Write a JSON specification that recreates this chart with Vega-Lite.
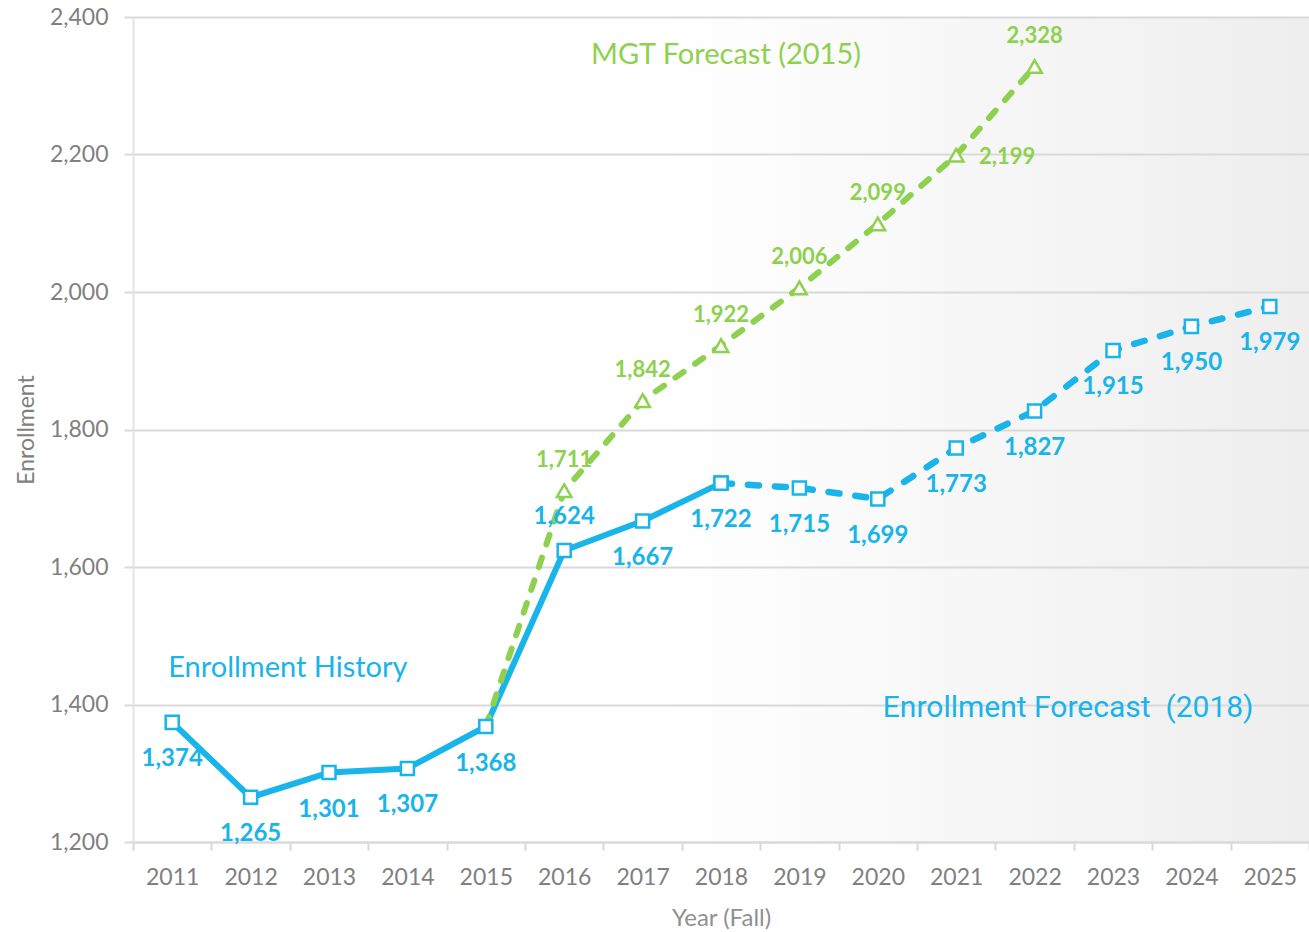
{
  "$schema": "https://vega.github.io/schema/vega-lite/v6.json",
  "width": 1176,
  "height": 825,
  "autosize": {"type": "none"},
  "padding": {"left": 133, "top": 17, "right": 0, "bottom": 90},
  "background": "white",
  "config": {
    "font": "Lato",
    "view": {
      "stroke": null,
      "fill": {
        "gradient": "linear",
        "x1": 0, "y1": 0, "x2": 1, "y2": 0,
        "stops": [
          {"offset": 0, "color": "#ffffff"},
          {"offset": 0.45, "color": "#ffffff"},
          {"offset": 1, "color": "#eeeeee"}
        ]
      }
    }
  },
  "datasets": {
    "series": [
      {"Year": 2011, "Enrollment": 1374, "Series": "History"},
      {"Year": 2012, "Enrollment": 1265, "Series": "History"},
      {"Year": 2013, "Enrollment": 1301, "Series": "History"},
      {"Year": 2014, "Enrollment": 1307, "Series": "History"},
      {"Year": 2015, "Enrollment": 1368, "Series": "History"},
      {"Year": 2016, "Enrollment": 1624, "Series": "History"},
      {"Year": 2017, "Enrollment": 1667, "Series": "History"},
      {"Year": 2018, "Enrollment": 1722, "Series": "History"},
      {"Year": 2018, "Enrollment": 1722, "Series": "Forecast"},
      {"Year": 2019, "Enrollment": 1715, "Series": "Forecast"},
      {"Year": 2020, "Enrollment": 1699, "Series": "Forecast"},
      {"Year": 2021, "Enrollment": 1773, "Series": "Forecast"},
      {"Year": 2022, "Enrollment": 1827, "Series": "Forecast"},
      {"Year": 2023, "Enrollment": 1915, "Series": "Forecast"},
      {"Year": 2024, "Enrollment": 1950, "Series": "Forecast"},
      {"Year": 2025, "Enrollment": 1979, "Series": "Forecast"},
      {"Year": 2015, "Enrollment": 1368, "Series": "MGT"},
      {"Year": 2016, "Enrollment": 1711, "Series": "MGT"},
      {"Year": 2017, "Enrollment": 1842, "Series": "MGT"},
      {"Year": 2018, "Enrollment": 1922, "Series": "MGT"},
      {"Year": 2019, "Enrollment": 2006, "Series": "MGT"},
      {"Year": 2020, "Enrollment": 2099, "Series": "MGT"},
      {"Year": 2021, "Enrollment": 2199, "Series": "MGT"},
      {"Year": 2022, "Enrollment": 2328, "Series": "MGT"}
    ],
    "notes": [
      {"Year": 2018, "Enrollment": 2345, "Note": "MGT Forecast (2015)", "Group": "MGT"},
      {"Year": 2011, "Enrollment": 1453, "Note": "Enrollment History", "Group": "History"},
      {"Year": 2020, "Enrollment": 1395, "Note": "Enrollment Forecast\u00a0\u00a0(2018)", "Group": "Forecast"}
    ]
  },
  "data": {"name": "series"},
  "encoding": {
    "x": {
      "field": "Year",
      "type": "ordinal",
      "scale": {
        "domain": [2011, 2012, 2013, 2014, 2015, 2016, 2017, 2018, 2019, 2020, 2021, 2022, 2023, 2024, 2025],
        "paddingInner": 0,
        "paddingOuter": 0
      },
      "axis": {
        "title": "Year (Fall)",
        "labelAngle": 0,
        "labelFontSize": 23,
        "labelColor": "#808080",
        "labelPadding": 16,
        "tickBand": "extent",
        "tickSize": 8,
        "tickWidth": 2,
        "tickColor": "#d9d9d9",
        "domainColor": "#d9d9d9",
        "domainWidth": 2,
        "grid": false,
        "titleFontSize": 24,
        "titleFontWeight": "normal",
        "titleColor": "#909090",
        "titlePadding": 17
      }
    },
    "y": {
      "field": "Enrollment",
      "type": "quantitative",
      "scale": {"domain": [1200, 2400], "nice": false, "zero": false},
      "axis": {
        "title": "Enrollment",
        "values": [1200, 1400, 1600, 1800, 2000, 2200, 2400],
        "format": ",.0f",
        "labelFontSize": 23,
        "labelColor": "#808080",
        "labelPadding": 16,
        "tickSize": 9,
        "tickWidth": 2,
        "tickColor": "#d9d9d9",
        "domainColor": "#e3e3e3",
        "domainWidth": 2,
        "gridColor": "#d9d9d9",
        "gridWidth": 2,
        "titleFontSize": 23,
        "titleFontWeight": "normal",
        "titleColor": "#808080",
        "titlePadding": 11
      }
    }
  },
  "layer": [
    {
      "transform": [{"filter": "datum.Series == 'History'"}],
      "mark": {"type": "line", "color": "#19b4e9", "strokeWidth": 6, "strokeJoin": "round"}
    },
    {
      "transform": [{"filter": "datum.Series == 'Forecast'"}],
      "mark": {"type": "line", "color": "#19b4e9", "strokeWidth": 6.5, "strokeDash": [11, 16], "strokeCap": "round"}
    },
    {
      "transform": [{"filter": "datum.Series == 'MGT'"}],
      "mark": {"type": "line", "color": "#8dd14f", "strokeWidth": 6, "strokeDash": [10, 14], "strokeCap": "round"}
    },
    {
      "transform": [{"filter": "datum.Series != 'MGT'"}],
      "mark": {"type": "point", "shape": "square", "size": 170, "filled": true, "fill": "white", "stroke": "#19b4e9", "strokeWidth": 2.5, "opacity": 1}
    },
    {
      "transform": [{"filter": "datum.Series == 'MGT' && datum.Year != 2015"}],
      "mark": {"type": "point", "shape": "triangle-up", "size": 210, "filled": true, "fill": "white", "stroke": "#8dd14f", "strokeWidth": 2.5, "opacity": 1}
    },
    {
      "transform": [{"filter": "(datum.Series == 'History' && datum.Year != 2016) || (datum.Series == 'Forecast' && datum.Year != 2018)"}],
      "mark": {"type": "text", "color": "#19b4e9", "fontSize": 24, "fontWeight": "bold", "dy": 37, "baseline": "middle"},
      "encoding": {"text": {"field": "Enrollment", "type": "quantitative", "format": ",.0f"}}
    },
    {
      "transform": [{"filter": "datum.Series == 'History' && datum.Year == 2016"}],
      "mark": {"type": "text", "color": "#19b4e9", "fontSize": 24, "fontWeight": "bold", "dy": -34, "baseline": "middle"},
      "encoding": {"text": {"field": "Enrollment", "type": "quantitative", "format": ",.0f"}}
    },
    {
      "transform": [{"filter": "datum.Series == 'MGT' && datum.Year != 2015 && datum.Year != 2021"}],
      "mark": {"type": "text", "color": "#8dd14f", "fontSize": 22, "fontWeight": "bold", "dy": -31, "baseline": "middle"},
      "encoding": {"text": {"field": "Enrollment", "type": "quantitative", "format": ",.0f"}}
    },
    {
      "transform": [{"filter": "datum.Series == 'MGT' && datum.Year == 2021"}],
      "mark": {"type": "text", "color": "#8dd14f", "fontSize": 22, "fontWeight": "bold", "dx": 51, "dy": 2, "baseline": "middle"},
      "encoding": {"text": {"field": "Enrollment", "type": "quantitative", "format": ",.0f"}}
    },
    {
      "data": {"name": "notes"},
      "transform": [{"filter": "datum.Group == 'MGT'"}],
      "mark": {"type": "text", "color": "#8dd14f", "fontSize": 29, "baseline": "middle", "align": "center", "dx": 5},
      "encoding": {"text": {"field": "Note"}}
    },
    {
      "data": {"name": "notes"},
      "transform": [{"filter": "datum.Group == 'History'"}],
      "mark": {"type": "text", "color": "#19b4e9", "fontSize": 29, "baseline": "middle", "align": "left", "dx": -4},
      "encoding": {"text": {"field": "Note"}}
    },
    {
      "data": {"name": "notes"},
      "transform": [{"filter": "datum.Group == 'Forecast'"}],
      "mark": {"type": "text", "color": "#19b4e9", "fontSize": 30, "font": "Roboto", "baseline": "middle", "align": "left", "dx": 5},
      "encoding": {"text": {"field": "Note"}}
    }
  ]
}
